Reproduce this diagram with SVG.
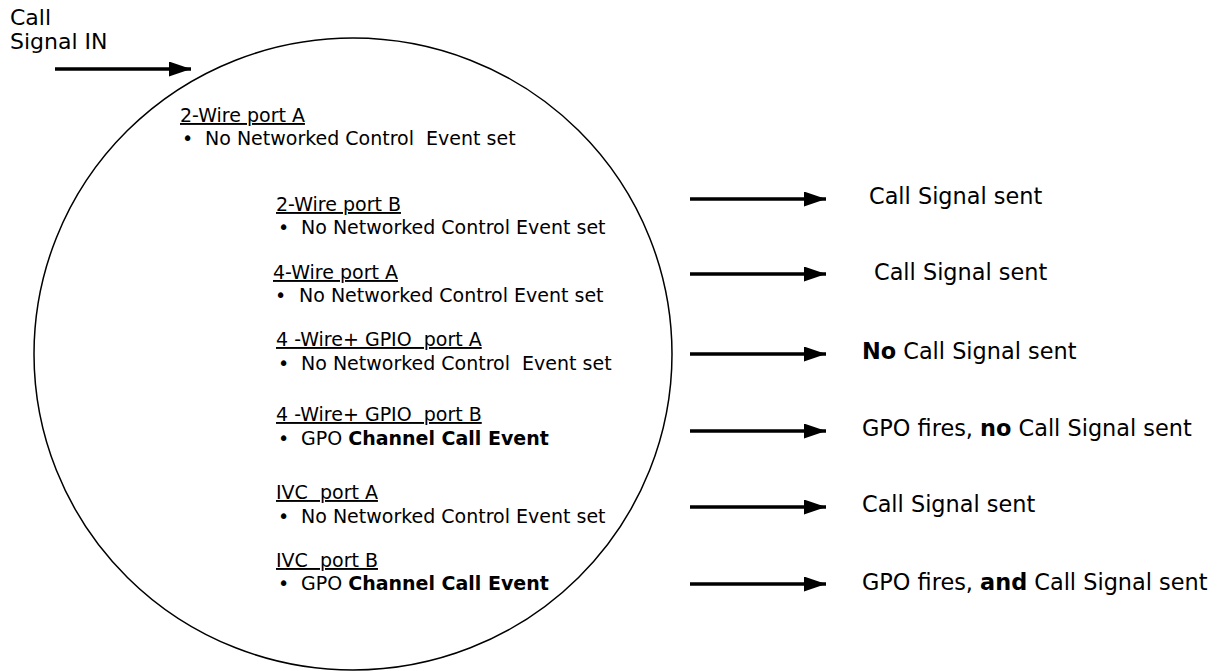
<svg xmlns="http://www.w3.org/2000/svg" width="1228" height="671" viewBox="0 0 1228 671">
<style>
text { font-family: "DejaVu Sans", Verdana, sans-serif; fill: #000; white-space: pre; }
.l { font-size: 19px; }
.r { font-size: 22.4px; }
.t { font-size: 22px; }
.h { text-decoration: underline; }
.b { font-weight: bold; }
.arr { stroke: #000; stroke-width: 3.5; fill: none; marker-end: url(#ah); }
</style>
<defs>
<marker id="ah" markerUnits="userSpaceOnUse" markerWidth="24" markerHeight="16" refX="22" refY="7.5" orient="auto">
<path d="M0,0 L22,7.5 L0,15 Z" fill="#000"/>
</marker>
</defs>
<rect width="1228" height="671" fill="#fff"/>
<g id="input">
<text class="t" x="10" y="25">Call</text>
<text class="t" x="10" y="49">Signal IN</text>
</g>
<g id="circle">
<ellipse cx="353" cy="354" rx="319" ry="316" fill="none" stroke="#000" stroke-width="1.5"/>
</g>
<g id="n1">
<text class="l h" x="180" y="122">2-Wire port A</text>
<text class="l" x="182" y="145">•</text>
<text class="l" x="205" y="145">No Networked Control  Event set</text>
</g>
<g id="n2">
<text class="l h" x="276" y="211">2-Wire port B</text>
<text class="l" x="278" y="234">•</text>
<text class="l" x="301" y="234">No Networked Control Event set</text>
</g>
<g id="n3">
<text class="l h" x="273" y="279">4-Wire port A</text>
<text class="l" x="275" y="302">•</text>
<text class="l" x="299" y="302">No Networked Control Event set</text>
</g>
<g id="n4">
<text class="l h" x="276" y="346">4 -Wire+ GPIO  port A</text>
<text class="l" x="278" y="370">•</text>
<text class="l" x="301" y="370">No Networked Control  Event set</text>
</g>
<g id="n5">
<text class="l h" x="276" y="421">4 -Wire+ GPIO  port B</text>
<text class="l" x="278" y="445">•</text>
<text class="l" x="301" y="445">GPO <tspan class="b">Channel Call Event</tspan></text>
</g>
<g id="n6">
<text class="l h" x="276" y="499">IVC  port A</text>
<text class="l" x="278" y="523">•</text>
<text class="l" x="301" y="523">No Networked Control Event set</text>
</g>
<g id="n7">
<text class="l h" x="276" y="567">IVC  port B</text>
<text class="l" x="278" y="590">•</text>
<text class="l" x="301" y="590">GPO <tspan class="b">Channel Call Event</tspan></text>
</g>
<g id="outputs">
<text class="r" x="869" y="204">Call Signal sent</text>
<text class="r" x="874" y="280">Call Signal sent</text>
<text class="r" x="862" y="359"><tspan class="b">No</tspan> Call Signal sent</text>
<text class="r" x="862" y="436">GPO fires, <tspan class="b">no</tspan> Call Signal sent</text>
<text class="r" x="862" y="512">Call Signal sent</text>
<text class="r" x="862" y="590">GPO fires, <tspan class="b">and</tspan> Call Signal sent</text>
</g>
<g id="connectors">
<line class="arr" x1="55" y1="69" x2="191" y2="69"/>
<line class="arr" x1="690" y1="199" x2="826" y2="199"/>
<line class="arr" x1="690" y1="274" x2="826" y2="274"/>
<line class="arr" x1="690" y1="354" x2="826" y2="354"/>
<line class="arr" x1="690" y1="431" x2="826" y2="431"/>
<line class="arr" x1="690" y1="507" x2="826" y2="507"/>
<line class="arr" x1="690" y1="584" x2="826" y2="584"/>
</g>
</svg>
